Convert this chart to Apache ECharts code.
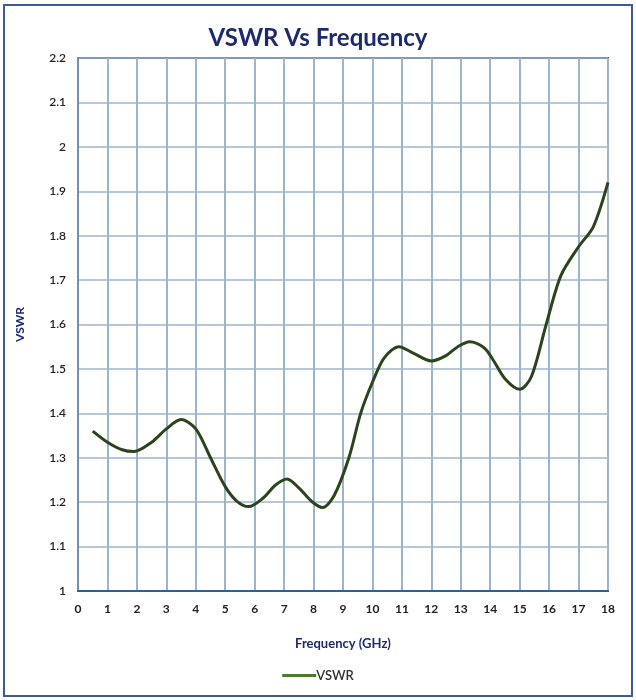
<!DOCTYPE html>
<html>
<head>
<meta charset="utf-8">
<script src="https://cdn.jsdelivr.net/npm/echarts@6/dist/echarts.min.js"></script>
<style>
  html, body { margin: 0; padding: 0; background: #fff; }
  #chart { width: 636px; height: 700px; }
</style>
</head>
<body>
<div id="chart"></div>
<script>
// values
var freqGHz = [0.5, 1, 1.5, 1.9, 2.5, 3, 3.5, 4, 4.5, 5, 5.4, 5.8, 6.3, 6.7, 7.1, 7.5, 7.95, 8.3, 8.7,
  9.2, 9.6, 10, 10.4, 10.9, 11.4, 12, 12.5, 12.9, 13.3, 13.8, 14.1, 14.5, 15, 15.4, 15.9, 16.4,
  17, 17.5, 18]
var vswr = [1.36, 1.335, 1.318, 1.314, 1.335, 1.365, 1.386, 1.365, 1.30, 1.235, 1.202, 1.19,
  1.21, 1.238, 1.252, 1.232, 1.201, 1.188, 1.215, 1.30, 1.40, 1.47, 1.525, 1.55, 1.535, 1.518,
  1.53, 1.55, 1.561, 1.547, 1.52, 1.478, 1.454, 1.483, 1.60, 1.71, 1.775, 1.82, 1.92]
var seriesName = 'VSWR'

var navy = '#1c2b6b'
var gridColor = '#9db5cb'

var chart = echarts.init(document.getElementById('chart'))

var points = freqGHz.map(function (f, i) { return [f, vswr[i]] })

chart.setOption({
  animation: false,
  backgroundColor: '#fff',
  textStyle: { fontFamily: 'Lato' },
  title: {
    text: 'VSWR Vs Frequency',
    left: 'center',
    top: 21,
    textStyle: { fontFamily: 'Lato', fontSize: 24, fontWeight: 'bold', color: navy }
  },
  graphic: [{
    type: 'rect',
    shape: { x: 4, y: 5, width: 628, height: 691 },
    style: { fill: 'none', stroke: '#3d5c96', lineWidth: 2 },
    silent: true
  }],
  legend: {
    bottom: 13,
    left: 'center',
    icon: 'rect',
    itemWidth: 34,
    itemHeight: 3,
    itemGap: 4,
    data: [{ name: seriesName, itemStyle: { color: '#4e7a2c' } }],
    textStyle: { fontFamily: 'Lato', fontSize: 13, color: '#333', fontWeight: 600, padding: [0, 0, 0, -5] }
  },
  grid: {
    left: 78,
    right: 28,
    top: 58,
    bottom: 109,
    show: true,
    borderColor: '#2c4f86',
    borderWidth: 2
  },
  xAxis: {
    type: 'value',
    min: 0,
    max: 18,
    interval: 1,
    name: 'Frequency (GHz)',
    nameLocation: 'middle',
    nameGap: 46,
    nameTextStyle: { fontFamily: 'Lato', fontSize: 13, fontWeight: 'bold', color: navy },
    axisLine: { lineStyle: { color: '#2d5ea0', width: 2 } },
    axisTick: { show: false },
    axisLabel: { margin: 12, fontSize: 12, fontWeight: 'bold', color: '#222' },
    splitLine: { lineStyle: { color: gridColor, width: 2 } }
  },
  yAxis: {
    type: 'value',
    min: 1,
    max: 2.2,
    interval: 0.1,
    name: 'VSWR',
    nameLocation: 'middle',
    nameGap: 52,
    nameTextStyle: { fontFamily: 'Lato', fontSize: 12, fontWeight: 'bold', color: navy },
    axisLine: { show: true, lineStyle: { color: '#6f92b6', width: 2 } },
    axisTick: { show: false },
    axisLabel: {
      margin: 12,
      fontSize: 12,
      fontWeight: 600,
      color: '#222',
      formatter: function (v) { return String(Math.round(v * 10) / 10) }
    },
    splitLine: { lineStyle: { color: gridColor, width: 1.5 } }
  },
  series: [{
    name: seriesName,
    type: 'line',
    data: points,
    smooth: 0.3,
    symbol: 'none',
    lineStyle: { color: '#2a451c', width: 3 },
    itemStyle: { color: '#2a451c' }
  }]
})
</script>
</body>
</html>
